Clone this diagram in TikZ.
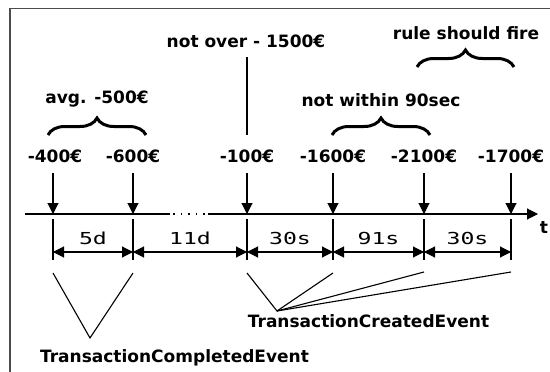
\documentclass[tikz,border=0pt]{standalone}
\usepackage{fontspec}
\setmainfont{DejaVu Sans}
\newfontfamily\monof{DejaVu Sans Mono}
\usetikzlibrary{arrows.meta,decorations.pathreplacing}
\begin{document}
\begin{tikzpicture}[x=1pt,y=-1pt,
  lbl/.style={font=\bfseries\fontsize{17}{20}\selectfont, anchor=base, inner sep=0pt},
  dur/.style={font=\monof\fontsize{16.5}{20}\selectfont, anchor=base, inner sep=0pt, xscale=1.4},
  ln/.style={line width=1.1pt},
  arr/.style={ln,-{Triangle[length=11pt,width=11pt]}},
  dim/.style={ln,{Triangle[length=11pt,width=11pt]}-{Triangle[length=11pt,width=11pt]}},
  br/.style={decorate,decoration={brace,amplitude=17pt},line width=3pt}
]
\useasboundingbox (0,0) rectangle (550,372);
% frame
\coordinate (fbl) at (10,372);
\coordinate (ftl) at (10,8.5);
\coordinate (ftr) at (550,8.5);
\draw[black!70,line width=1.2pt] (fbl) -- (ftl) -- (ftr);

% events on axis
\foreach \i/\x in {1/53,2/133,3/247,4/333,5/424,6/511}{
  \coordinate (e\i) at (\x,214);
  \coordinate (a\i) at (\x,173);
  \coordinate (ta\i) at (\x,219);
  \coordinate (tb\i) at (\x,260);
  \coordinate (d\i) at (\x,252);
  \draw[arr] (a\i) -- (e\i);
  \draw[ln] (ta\i) -- (tb\i);
}

% axis
\coordinate (ax0) at (25,214);
\coordinate (ax1) at (170,214);
\coordinate (ax2) at (208,214);
\coordinate (ax3) at (538,214);
\draw[ln] (ax0) -- (ax1);
\draw[ln,dash pattern=on 1.6pt off 6pt,dash phase=-3pt] (ax1) -- (ax2);
\draw[arr] (ax2) -- (ax3);
\node[lbl] (t) at (544,233) {t};

% values
\node[lbl] (v1) at (55,162) {-400€};
\node[lbl] (v2) at (133,162) {-600€};
\node[lbl] (v3) at (247,162) {-100€};
\node[lbl] (v4) at (333,162) {-1600€};
\node[lbl] (v5) at (424,162) {-2100€};
\node[lbl] (v6) at (511,162) {-1700€};

% durations
\foreach \i/\j/\txt in {1/2/5d,2/3/11d,3/4/30s,4/5/91s,5/6/30s}{
  \draw[dim] (d\i) -- (d\j);
  \path (d\i) -- node[dur,pos=0.5,yshift=8pt] (l\i) {\txt} (d\j);
}

% braces
\coordinate (b1l) at (48,135);
\coordinate (b1r) at (146,135);
\draw[br] (b1l) -- (b1r);
\node[lbl] (avg) at (97,103) {avg. -500€};

\coordinate (b2l) at (332,135);
\coordinate (b2r) at (430,135);
\draw[br] (b2l) -- (b2r);
\node[lbl] (nw) at (381,106) {not within 90sec};

\coordinate (b3l) at (417,67);
\coordinate (b3r) at (514,67);
\draw[br] (b3l) -- (b3r);
\node[lbl] (rf) at (466,39) {rule should fire};

\node[lbl] (no) at (246,48) {not over - 1500€};
\coordinate (nt) at (247,57);
\coordinate (nb) at (247,135);
\draw[ln] (nt) -- (nb);

% event type labels
\coordinate (c1) at (53,273);
\coordinate (c2) at (133,273);
\coordinate (p1) at (90,338);
\draw[ln] (c1) -- (p1) -- (c2);
\node[lbl] (tce) at (174.5,362) {TransactionCompletedEvent};

\coordinate (c3) at (247,273);
\coordinate (c4) at (333,273);
\coordinate (c5) at (424,272);
\coordinate (c6) at (511,272);
\coordinate (p2) at (277,311);
\draw[ln] (c3) -- (p2) -- (c4);
\draw[ln] (p2) -- (c5);
\draw[ln] (p2) -- (c6);
\node[lbl] (tcr) at (368.5,327) {TransactionCreatedEvent};
\end{tikzpicture}
\end{document}
